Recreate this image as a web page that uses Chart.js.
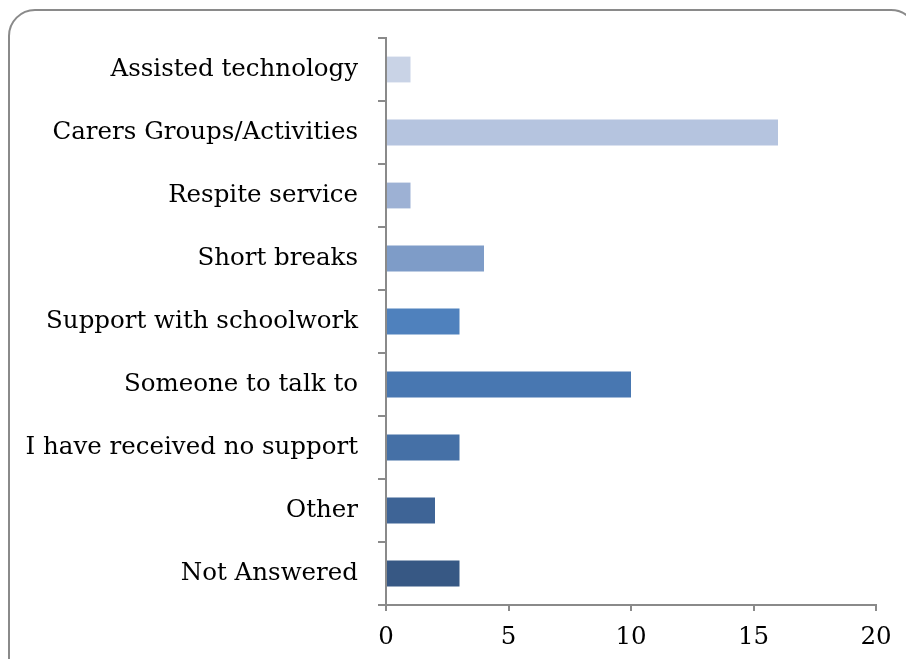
<!DOCTYPE html>
<html>
<head>
<meta charset="utf-8">
<script src="https://cdn.jsdelivr.net/npm/chart.js@4/dist/chart.umd.min.js"></script>
<style>
  html, body { margin: 0; padding: 0; background: #fff; overflow: hidden; }
  #wrap { position: relative; width: 906px; height: 659px; overflow: hidden; }
  #frame {
    position: absolute; left: 8px; top: 9px; width: 910px; height: 680px;
    border: 2px solid #8a8a8a; border-radius: 27px; box-sizing: border-box;
  }
  canvas { position: absolute; left: 0; top: 0; }
</style>
</head>
<body>
<div id="wrap">
  <div id="frame"></div>
  <canvas id="chart" width="906" height="659"></canvas>
</div>
<script>
const categories = [
  "Assisted technology",
  "Carers Groups/Activities",
  "Respite service",
  "Short breaks",
  "Support with schoolwork",
  "Someone to talk to",
  "I have received no support",
  "Other",
  "Not Answered"
];
const responses = [1, 16, 1, 4, 3, 10, 3, 2, 3];
const xTicks = [0, 5, 10, 15, 20];
const barColors = [
  "#c9d3e6", "#b5c4df", "#9db1d4", "#7e9cc8", "#4f81bd",
  "#4877b1", "#4570a6", "#3e6496", "#375884"
];

const axisGrey = "#8a8a8a";
const labelFont = { family: "'DejaVu Serif', serif", size: 24.5 };

new Chart(document.getElementById("chart"), {
  type: "bar",
  data: {
    labels: categories,
    datasets: [{
      data: responses,
      backgroundColor: barColors,
      borderWidth: 0,
      barPercentage: 0.41,
      categoryPercentage: 1
    }]
  },
  options: {
    indexAxis: "y",
    responsive: false,
    animation: false,
    devicePixelRatio: 1,
    layout: { padding: { left: 0, right: 30, top: 38, bottom: 0 } },
    plugins: { legend: { display: false }, tooltip: { enabled: false } },
    scales: {
      y: {
        afterFit(scale) { scale.width = 386; },
        grid: { drawOnChartArea: false, color: axisGrey, lineWidth: 2, tickLength: 8, offset: true },
        border: { color: axisGrey, width: 2 },
        ticks: { color: "#000", font: labelFont, padding: 20 }
      },
      x: {
        min: 0, max: 20,
        afterFit(scale) { scale.height = 54; },
        afterBuildTicks(scale) { scale.ticks = xTicks.map(v => ({ value: v })); },
        grid: { drawOnChartArea: false, color: axisGrey, lineWidth: 2, tickLength: 6 },
        border: { color: axisGrey, width: 2 },
        ticks: { color: "#000", font: labelFont, padding: 12 }
      }
    }
  }
});
</script>
</body>
</html>
